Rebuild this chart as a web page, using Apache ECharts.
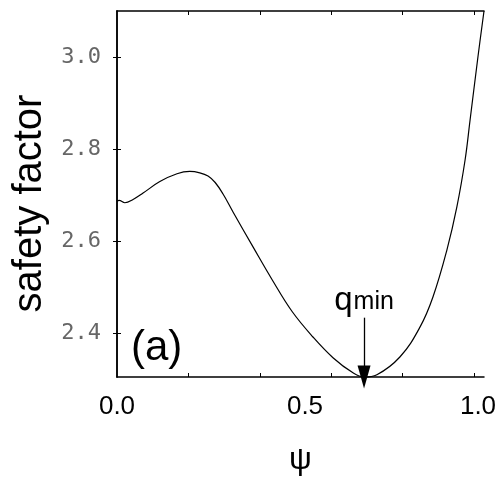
<!DOCTYPE html>
<html>
<head>
<meta charset="utf-8">
<script src="https://cdn.jsdelivr.net/npm/echarts@6/dist/echarts.min.js"></script>
<style>html,body{margin:0;padding:0;background:#fff}#c{width:504px;height:485px}</style>
</head>
<body>
<div id="c"></div>
<script>
// ---- data ----
const psi = [0.000, 0.006, 0.022, 0.045, 0.073, 0.120, 0.168, 0.204, 0.232, 0.255, 0.275, 0.297, 0.325, 0.381, 0.435, 0.490, 0.549, 0.605, 0.661, 0.692, 0.728, 0.793, 0.849, 0.885, 0.924, 0.952, 0.975, 0.989, 1.011, 1.028];
const q   = [2.686, 2.688, 2.683, 2.690, 2.704, 2.729, 2.746, 2.751, 2.748, 2.741, 2.727, 2.702, 2.663, 2.587, 2.515, 2.447, 2.391, 2.346, 2.313, 2.304, 2.309, 2.348, 2.413, 2.478, 2.580, 2.674, 2.776, 2.863, 3.000, 3.100];
const xTickValues = [0.2, 0.4, 0.6, 0.8, 1.0];
const xTickLabels = [0.0, 0.5, 1.0];
const yTickValues = [2.4, 2.6, 2.8, 3.0];
const xRange = [0, 1.028];
const yRange = [2.304, 3.1];
const qminArrowTop = 2.433;   // q value where the q_min arrow starts
const panelLabel = '(a)';
const xName = 'ψ';
const yName = 'safety factor';

// ---- build ----
const seriesData = psi.map((x, i) => [x, q[i]]);
let iMin = 0;
q.forEach((v, i) => { if (v < q[iMin]) iMin = i; });

const sans = 'Liberation Sans';
const xNudge = { '0.0': 0, '0.5': 19, '1.0': 8 };
const xRich = {};
Object.keys(xNudge).forEach((k, i) => {
  xRich['t' + i] = { fontSize: 26, fontFamily: sans, color: '#000', padding: [0, 0, 0, xNudge[k]] };
});

const frame = { show: true, lineStyle: { color: '#000', width: 1.5 } };
const tickIn = (vals) => ({ show: true, inside: true, length: 4, customValues: vals, lineStyle: { color: '#000', width: 1 } });

const chart = echarts.init(document.getElementById('c'), null, { renderer: 'canvas' });
chart.setOption({
  animation: false,
  backgroundColor: '#fff',
  grid: { left: 117, right: 20, top: 11, bottom: 108, containLabel: false },
  xAxis: [{
    type: 'value', position: 'bottom', min: xRange[0], max: xRange[1],
    axisLine: frame, axisTick: tickIn(xTickValues), splitLine: { show: false },
    axisLabel: {
      customValues: xTickLabels, margin: 17,
      formatter: (v) => { const s = v.toFixed(1); const idx = Object.keys(xNudge).indexOf(s); return '{t' + idx + '|' + s + '}'; },
      rich: xRich, fontSize: 26, fontFamily: sans, color: '#000'
    },
    name: xName, nameLocation: 'middle', nameGap: 67,
    nameTextStyle: { fontSize: 32, fontFamily: sans, color: '#000' }
  }, {
    type: 'value', position: 'top', min: xRange[0], max: xRange[1],
    axisLine: frame, axisTick: tickIn(xTickValues), axisLabel: { show: false }, splitLine: { show: false }
  }],
  yAxis: [{
    type: 'value', position: 'left', min: yRange[0], max: yRange[1],
    axisLine: frame, axisTick: tickIn(yTickValues), splitLine: { show: false },
    axisLabel: {
      customValues: yTickValues, margin: 16,
      formatter: (v) => v.toFixed(1),
      fontSize: 22, fontFamily: 'DejaVu Sans Mono', fontWeight: 'lighter', color: '#666',
      padding: [4, 0, 0, 0]
    },
    name: yName, nameLocation: 'middle', nameGap: 61,
    nameTextStyle: { fontSize: 40, fontFamily: sans, color: '#000', padding: [0, 19, 0, 0] }
  }, {
    type: 'value', position: 'right', min: yRange[0], max: yRange[1],
    axisLine: frame, axisTick: tickIn(yTickValues), axisLabel: { show: false }, splitLine: { show: false }
  }],
  series: [{
    type: 'line', data: seriesData, showSymbol: false, smooth: 0.4, clip: false,
    lineStyle: { color: '#000', width: 1.2 },
    markLine: {
      silent: true, animation: false,
      lineStyle: { color: '#000', width: 1.3, type: 'solid' },
      label: {
        show: true, position: 'start', distance: 0,
        formatter: '{a|q}{b|min}',
        rich: {
          a: { fontSize: 33, fontFamily: sans, color: '#000', verticalAlign: 'bottom' },
          b: { fontSize: 25, fontFamily: sans, color: '#000', verticalAlign: 'bottom', padding: [0, 0, 3, 1] }
        }
      },
      data: [[
        { coord: [psi[iMin], qminArrowTop], symbol: 'none' },
        { coord: [psi[iMin], q[iMin]], symbol: 'triangle', symbolSize: [13, 23] }
      ]]
    }
  }],
  graphic: [{
    type: 'text', left: 131, top: 327,
    style: { text: panelLabel, font: '42px "Liberation Sans"', fill: '#000' }
  }]
});
</script>
</body>
</html>
